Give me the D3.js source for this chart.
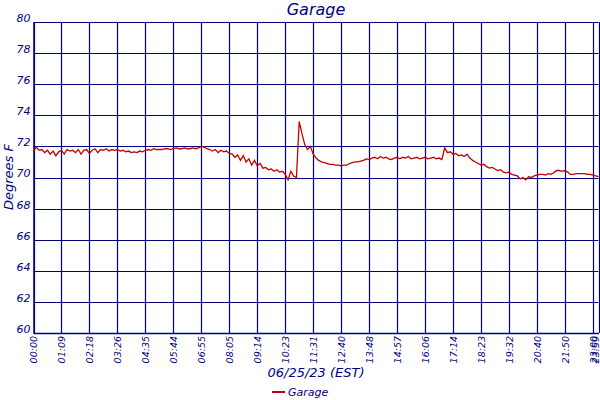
<!DOCTYPE html>
<html>
<head>
<meta charset="utf-8">
<script src="https://cdn.jsdelivr.net/npm/d3@7"></script>
<style>
  body { margin: 0; background: #fff; }
  svg { display: block; }
  text { font-family: "DejaVu Sans", sans-serif; font-style: italic; fill: #000080; }
</style>
</head>
<body>
<svg id="chart" width="600" height="400"></svg>
<script>
const title = "Garage";
const xTitle = "06/25/23 (EST)";
const yTitle = "Degrees F";
const seriesName = "Garage";

// sample index positions of tick labels, and their labels
const tickIdx = [0, 50, 100, 150, 200, 250, 300, 350, 400, 450, 500, 550, 600, 650, 700, 750, 800, 850, 900, 950, 1000, 1010];
const tickLabels = ["00:00", "01:09", "02:18", "03:26", "04:35", "05:44", "06:55", "08:05", "09:14", "10:23", "11:31", "12:40", "13:48", "14:57", "16:06", "17:14", "18:23", "19:32", "20:40", "21:50", "23:00", "23:59"];
const yTicks = [60, 62, 64, 66, 68, 70, 72, 74, 76, 78, 80];

// temperature readings, one every 5 samples
const temps = [
  71.7,71.95,71.75,71.8,71.6,71.75,71.5,71.7,71.4,71.65,71.75,71.5,71.8,71.7,71.75,71.6,71.8,71.5,71.75,71.8,71.55,71.75,71.85,
  71.6,71.8,71.75,71.85,71.7,71.8,71.75,71.8,71.7,71.75,71.65,71.7,71.6,71.65,71.6,71.7,71.65,71.75,71.8,71.75,71.85,71.8,71.8,
  71.8,71.85,71.85,71.8,71.85,71.9,71.85,71.85,71.9,71.85,71.85,71.9,71.85,71.9,
  72.0,71.95,
  71.85,71.8,71.7,71.8,71.6,71.75,71.65,71.7,71.55,
  71.5,71.3,71.45,71.1,71.4,71.0,71.2,70.8,71.1,70.75,70.9,70.6,70.65,70.5,70.55,70.4,70.5,70.35,70.4,70.2,
  69.85,70.4,70.1,70.0,
  73.6,72.8,72.1,71.8,72.0,71.5,71.25,
  71.1,71.0,70.95,70.9,70.85,70.85,70.8,70.8,70.75,70.8,70.8,70.9,70.95,71.0,71.0,
  71.05,71.1,71.2,71.15,71.25,71.3,71.2,71.35,71.25,71.3,71.2,71.15,71.25,71.3,71.2,71.3,71.25,71.35,71.2,71.25,71.3,71.2,71.25,71.3,71.2,71.25,71.3,71.2,71.25,
  71.15,71.9,
  71.6,71.65,71.5,71.55,71.4,71.45,71.35,71.5,
  71.25,71.1,71.0,70.9,70.8,70.85,70.7,70.6,70.65,70.55,70.45,70.5,70.35,70.3,70.35,70.2,70.15,70.1,
  69.9,70.0,69.85,70.05,70.0,70.1,70.15,70.2,
  70.2,70.15,70.25,70.2,70.3,70.45,70.45,70.4,70.45,70.35,70.2,70.2,70.25,70.25,70.25,70.25,70.2,70.2,70.15,70.1,70.05
];
const sampleStep = 5;

const svg = d3.select("#chart");
const navy = "#000080";
const lineColor = "#c00000";
const m = { left: 33.5, right: 598.5, top: 22, bottom: 333 };

const x = d3.scaleLinear().domain([0, 1010]).range([m.left, m.right]);
const y = d3.scaleLinear().domain([60, 80]).range([m.bottom, m.top]);

svg.append("rect").attr("x", m.left).attr("y", m.top)
  .attr("width", m.right - m.left).attr("height", m.bottom - m.top)
  .attr("fill", "#fff");

// horizontal grid
svg.append("g").selectAll("line").data(yTicks).join("line")
  .attr("x1", m.left).attr("x2", m.right)
  .attr("y1", d => Math.round(y(d)) + 0.5).attr("y2", d => Math.round(y(d)) + 0.5)
  .attr("stroke", navy).attr("stroke-width", 1.2);

// vertical grid
svg.append("g").selectAll("line").data(tickIdx).join("line")
  .attr("x1", d => Math.round(x(d)) + 0.5).attr("x2", d => Math.round(x(d)) + 0.5)
  .attr("y1", m.top).attr("y2", m.bottom)
  .attr("stroke", navy).attr("stroke-width", 1.2);

const yAxis = svg.append("g").attr("transform", `translate(${m.left},0)`)
  .call(d3.axisLeft(y).tickValues(yTicks).tickSize(0).tickPadding(3).tickFormat(d3.format("d")));
yAxis.select(".domain").attr("stroke", navy).attr("stroke-width", 1.5);
yAxis.selectAll("text").attr("font-size", 11).attr("dy", "-0.05em")
  .style("font-family", "DejaVu Sans").style("font-style", "italic").attr("fill", navy);

const xAxis = svg.append("g").attr("transform", `translate(0,${m.bottom})`)
  .call(d3.axisBottom(x).tickValues(tickIdx).tickSize(0).tickFormat((d, i) => tickLabels[i]));
xAxis.select(".domain").attr("stroke", navy).attr("stroke-width", 1.5);
xAxis.selectAll("text")
  .attr("transform", "rotate(-90)")
  .attr("text-anchor", "end")
  .attr("x", -3).attr("y", 0)
  .attr("dy", (d, i) => i === tickIdx.length - 1 ? "0.05em" : "0.35em")
  .attr("font-size", 9.5)
  .style("font-family", "DejaVu Sans").style("font-style", "italic").attr("fill", navy);

const line = d3.line()
  .x((d, i) => x(i * sampleStep))
  .y(d => y(d));
svg.append("path").datum(temps)
  .attr("d", line)
  .attr("fill", "none")
  .attr("stroke", lineColor)
  .attr("stroke-width", 1.3)
  .attr("stroke-linejoin", "miter");

svg.append("text").attr("x", (m.left + m.right) / 2).attr("y", 15)
  .attr("text-anchor", "middle").attr("font-size", 16).text(title);
svg.append("text").attr("x", (m.left + m.right) / 2).attr("y", 377)
  .attr("text-anchor", "middle").attr("font-size", 13).text(xTitle);
svg.append("text").attr("transform", `translate(13,177) rotate(-90)`)
  .attr("text-anchor", "middle").attr("font-size", 13).text(yTitle);

const lg = svg.append("g").attr("transform", "translate(272,392)");
lg.append("line").attr("x1", 0).attr("x2", 13).attr("y1", 0).attr("y2", 0)
  .attr("stroke", lineColor).attr("stroke-width", 2);
lg.append("text").attr("x", 16).attr("y", 4).attr("font-size", 11).text(seriesName);
</script>
</body>
</html>
